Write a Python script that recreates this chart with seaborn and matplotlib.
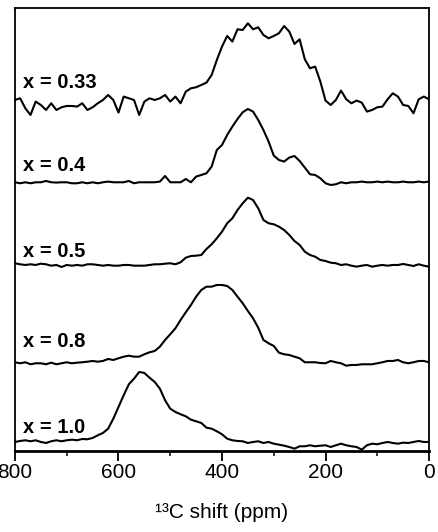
import matplotlib
matplotlib.use("Agg")
import matplotlib.pyplot as plt
from matplotlib.ticker import MultipleLocator
import numpy as np
import pandas as pd
import seaborn as sns

# ── Data ──────────────────────────────────────────────────────────────────────
shift_ppm = list(range(800, -10, -10))   # 800 ... 0, step 10 ppm

samples = ["x = 0.33", "x = 0.4", "x = 0.5", "x = 0.8", "x = 1.0"]

# vertical stacking offset of each spectrum (arbitrary units)
offsets = [347.7, 268.7, 186.0, 88.0, 10.0]

sig_033 = [
    3.3, 5, -5, -11.7, 1.7, -1.7, -6.7, 0, -6.7, -4,
    -2.7, -2.7, -3.3, 0, -6.7, -4, 0, 3.3, 8.3, 3.3,
    -9.3, 6.7, 5, 3.3, -11.7, 1.7, 5, 3.3, 5, 8.3,
    1.7, 6.7, 0, 11.7, 15, 16, 18.3, 20.7, 28.3, 43.3,
    56.7, 67.3, 61.7, 74, 73.3, 80, 74, 76, 68.3, 65,
    67.3, 70, 77.3, 71.7, 59.3, 64, 44, 35, 36.7, 21.7,
    2.7, -1.7, 3.3, 12.7, 4, 0, 2.7, 0.7, -8.3, -6.7,
    -4, -3.3, 4, 10, 6.7, -1.7, -2.7, -10, 4, 6.7, 4,
]
sig_04 = [
    0, -1, 0, -1, 0, 0, 1.3, 0, -0.3, 0,
    0, -1, -1, 0, -1, 0, -1, 0, 0.7, 0,
    0, 0, 1.3, -1, 0, 0, 0, 0, 0.7, 6.3,
    0, 0, 0, 3.3, 0, 5.7, 7.3, 9, 15.7, 32.3,
    37.3, 47.3, 55.7, 63.3, 70, 73.3, 70.7, 62.3, 52.3, 40.7,
    26.7, 22.3, 20.7, 24.7, 26.3, 21.3, 14.7, 8, 7.3, 4,
    -1, -2.7, -2, 0, -1, 0, 0, 0.7, 0, 0,
    0.7, 0, 0.7, 0, 0, 0.7, 0, 0, 0.7, 0, 0.7,
]
sig_05 = [
    1.7, 0.7, 0, 0.7, 0, 1.3, 0.7, -0.7, 0, -2,
    0, -0.7, 0, -0.7, 0.7, 0.7, 0, -0.7, 0, -0.7,
    -0.7, 0, 0, -0.7, -0.7, -0.7, 0, 0.7, 0.7, 1.3,
    1.7, 0.7, 2.7, 7.3, 9, 9.3, 10, 16, 20.7, 26.7,
    33.3, 41.7, 46.7, 55, 61.7, 67.3, 65, 56.7, 45, 41.7,
    40.7, 38.3, 35, 30, 24, 20, 13.3, 10, 8.3, 5,
    4, 2.3, 1.7, 0, 0.7, -0.7, -1.7, -0.7, 0, -1.7,
    -0.7, 0, -0.7, 0, 0, 1, 0, -1, 0.7, -0.7, -1.7,
]
sig_08 = [
    0.7, -0.3, 0.7, -1.3, -0.3, -0.3, -1.3, 0.3, -1.3, -0.3,
    0.7, -0.3, 0.3, 0.7, 1.3, 2, 1.3, 2, 4, 3,
    4.7, 6.3, 7.3, 6.3, 6.3, 8.7, 10.7, 12, 16.3, 23,
    28.7, 34.7, 43, 50.7, 58, 66.3, 73, 76.3, 76.3, 78,
    78, 77, 73, 66.3, 59.7, 52, 44.7, 35.3, 23, 19.7,
    17, 10.3, 8.7, 8, 6.3, 4.7, 0.7, 0.7, 0.7, 0,
    -0.3, 2, 0.7, -0.3, -2.7, -2, -2, -1.3, -1.3, -1.3,
    -0.3, 0.7, 2, 2, 3, 0.7, -0.3, 0.7, 2, 2, 0.7,
]
sig_10 = [
    -1, 0, 0.7, -0.3, 0.7, -1, -2, -0.3, 0.7, -0.3,
    0.7, 1.3, 0.7, 2, 1.7, 3, 5.7, 8, 12.3, 22.3,
    34, 45.7, 56.7, 62.3, 69, 68, 63.3, 59, 52.3, 40.7,
    32.3, 29, 26.7, 24.7, 21.3, 19.7, 18, 13.3, 12.3, 9.7,
    6.7, 2.3, 0.7, 0, -0.3, -2, -1, -0.3, -2, -1,
    -2.7, -3.7, -4.7, -6, -7.7, -5.3, -5.3, -4.3, -5.3, -4.7,
    -4.3, -6, -4.3, -2.7, -4.3, -5.3, -6, -8.7, -4.3, -2.7,
    -3.3, -2, -1, -2, -2.7, -1.7, -2, -1, 0, -1, -1,
]
signals = [sig_033, sig_04, sig_05, sig_08, sig_10]

# ── Layout ────────────────────────────────────────────────────────────────────
label_x = 784.5
label_y = [368, 285, 199, 109.5, 23]

sns.set_theme(style="ticks", rc={
    "axes.edgecolor": "black",
    "axes.labelcolor": "black",
    "text.color": "black",
    "xtick.color": "black",
    "ytick.color": "black",
})
plt.rcParams["font.family"] = ["Liberation Sans", "DejaVu Sans"]

frames = []
for name, off, sig in zip(samples, offsets, signals):
    frames.append(pd.DataFrame({
        "shift": shift_ppm,
        "signal": np.asarray(sig, dtype=float) + off,
        "sample": name,
    }))
df = pd.concat(frames, ignore_index=True)

fig, ax = plt.subplots(figsize=(4.38, 5.32), dpi=100)
fig.subplots_adjust(left=0.0342, right=0.9795, bottom=0.1523, top=0.985)

sns.lineplot(data=df, x="shift", y="signal", hue="sample",
             palette=["black"] * len(samples), estimator=None, sort=False,
             linewidth=1.5, legend=False, ax=ax)

for name, y in zip(samples, label_y):
    ax.text(label_x, y, name, ha="left", va="center",
            fontsize=14.5, fontweight="bold")

ax.set_xlim(800, 0)
ax.set_ylim(0, 443)
ax.set_xticks([800, 600, 400, 200, 0])
ax.xaxis.set_minor_locator(MultipleLocator(100))
ax.tick_params(axis="x", which="major", direction="out", length=7,
               width=1.3, labelsize=15, pad=2)
ax.tick_params(axis="x", which="minor", direction="out", length=3.5, width=1.1)
ax.set_yticks([])
ax.set_ylabel("")
ax.set_xlabel("¹³C shift (ppm)", fontsize=15, labelpad=15)

for side in ["left", "top", "right"]:
    ax.spines[side].set_linewidth(1.3)
ax.spines["bottom"].set_linewidth(2)

plt.savefig("out.png", dpi=100)
plt.close()
print("out.png")
